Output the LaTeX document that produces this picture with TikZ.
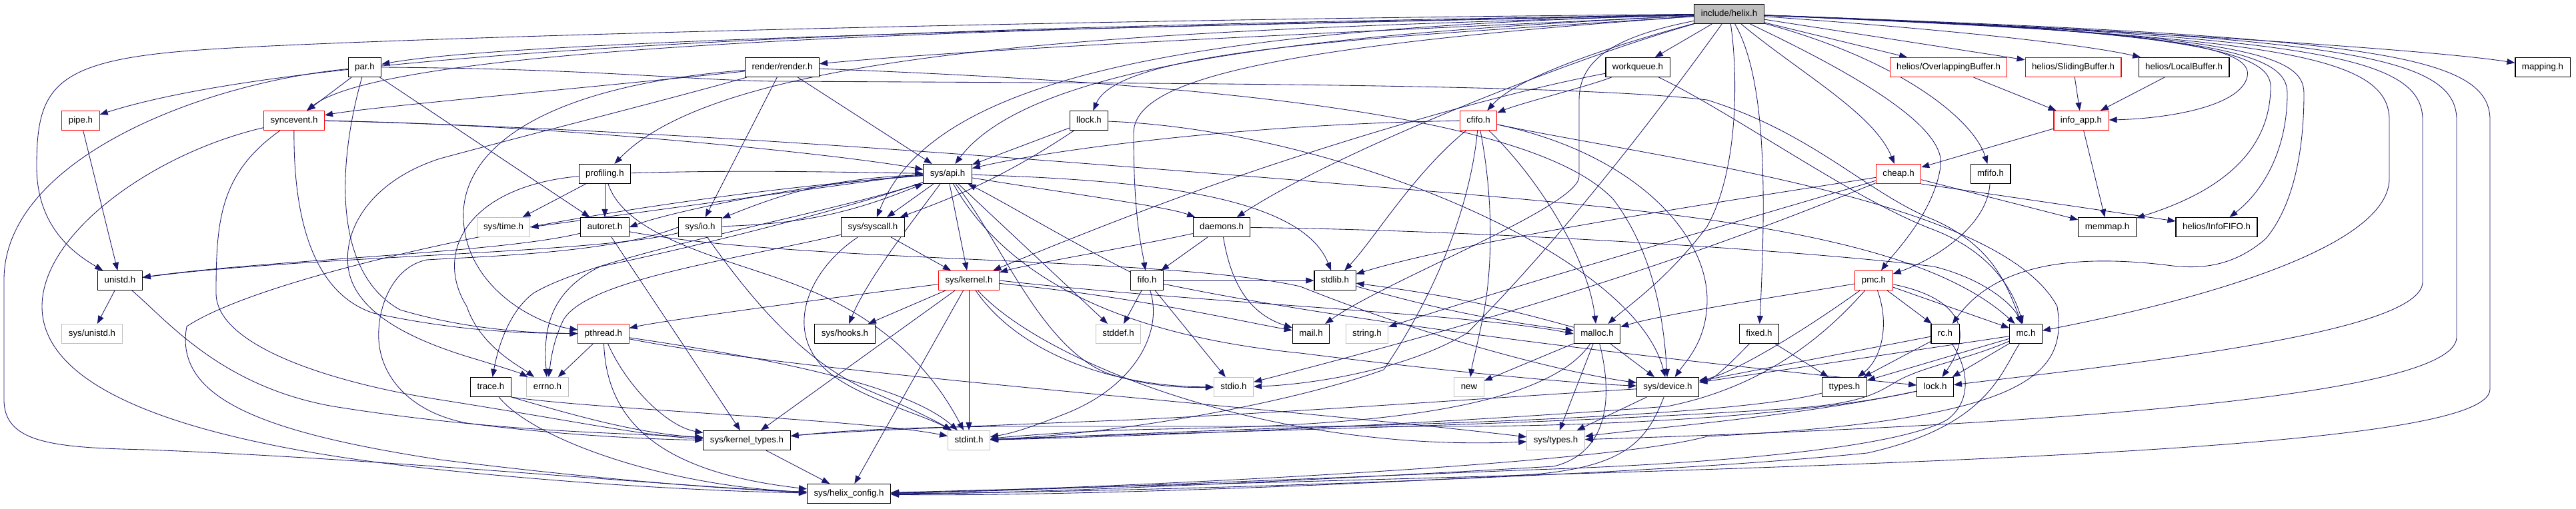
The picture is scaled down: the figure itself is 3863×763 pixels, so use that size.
\documentclass[tikz,border=0pt]{standalone}
\usepackage{fontspec}
\setmainfont{Liberation Sans}
\usetikzlibrary{arrows.meta}
\definecolor{edgec}{RGB}{25,25,112}
\definecolor{nodered}{RGB}{255,0,0}
\definecolor{nodegray}{RGB}{191,191,191}
\pgfdeclarelayer{bg}
\pgfdeclarelayer{edges}
\pgfsetlayers{bg,edges,main}
\begin{document}
\begin{tikzpicture}[x=1pt,y=-1pt,
 box/.style={draw=black, fill=white, line width=1.1pt, font=\fontsize{13.3}{14}\selectfont, inner xsep=10pt, inner ysep=0pt, minimum height=29pt, text height=9.6pt, text depth=2.8pt, anchor=center},
 redbox/.style={box, draw=nodered},
 graybox/.style={box, draw=nodegray},
 rootbox/.style={box, fill=nodegray},
 e/.style={draw=edgec, line width=0.85pt, -{Triangle[length=12pt,width=9pt]}}]
\useasboundingbox (0,0) rectangle (3863,763);
\begin{pgfonlayer}{bg}
\fill[white] (0,0) rectangle (3863,763);
\end{pgfonlayer}
% row 0
\node[rootbox] (helix) at (2593,21) {include/helix.h};
% row 1
\node[box] (par) at (547,101) {par.h};
\node[box] (render) at (1173,101) {render/render.h};
\node[box] (workqueue) at (2456,101) {workqueue.h};
\node[redbox] (overlap) at (2922,101) {helios/OverlappingBuffer.h};
\node[redbox] (sliding) at (3109,101) {helios/SlidingBuffer.h};
\node[box] (localbuf) at (3275,101) {helios/LocalBuffer.h};
\node[box] (mapping) at (3813,101) {mapping.h};
% row 2
\node[redbox] (pipe) at (121,181) {pipe.h};
\node[redbox] (syncevent) at (441,181) {syncevent.h};
\node[box] (llock) at (1633,181) {llock.h};
\node[redbox] (cfifo) at (2217,181) {cfifo.h};
\node[redbox] (infoapp) at (3121,181) {info\_app.h};
% row 3
\node[box] (profiling) at (907,261) {profiling.h};
\node[box] (sysapi) at (1421,261) {sys/api.h};
\node[redbox] (cheap) at (2847,261) {cheap.h};
\node[box] (mfifo) at (2985,261) {mfifo.h};
% row 4
\node[graybox] (systime) at (755,341) {sys/time.h};
\node[box] (autoret) at (907,341) {autoret.h};
\node[box] (sysio) at (1050,341) {sys/io.h};
\node[box] (syscall) at (1309,341) {sys/syscall.h};
\node[box] (daemons) at (1832,341) {daemons.h};
\node[box] (memmap) at (3160,341) {memmap.h};
\node[box] (infofifo) at (3324,341) {helios/InfoFIFO.h};
% row 5
\node[box] (unistd) at (180,421) {unistd.h};
\node[redbox] (syskernel) at (1453,421) {sys/kernel.h};
\node[box] (fifo) at (1720,421) {fifo.h};
\node[box] (stdlib) at (2002,421) {stdlib.h};
\node[redbox] (pmc) at (2810,421) {pmc.h};
% row 6
\node[graybox] (sysunistd) at (138,501) {sys/unistd.h};
\node[redbox] (pthread) at (905,501) {pthread.h};
\node[box] (syshooks) at (1267,501) {sys/hooks.h};
\node[graybox] (stddef) at (1677,501) {stddef.h};
\node[box] (mail) at (1966,501) {mail.h};
\node[graybox] (string) at (2050,501) {string.h};
\node[box] (malloc) at (2395,501) {malloc.h};
\node[box] (fixed) at (2638,501) {fixed.h};
\node[box] (rc) at (2917,501) {rc.h};
\node[box] (mc) at (3038,501) {mc.h};
% row 7
\node[box] (trace) at (736,581) {trace.h};
\node[graybox] (errno) at (821,581) {errno.h};
\node[graybox] (stdio) at (1850,581) {stdio.h};
\node[graybox] (new) at (2203,581) {new};
\node[box] (sysdevice) at (2501,581) {sys/device.h};
\node[box] (ttypes) at (2766,581) {ttypes.h};
\node[box] (lock) at (2902,581) {lock.h};
% row 8
\node[box] (kerneltypes) at (1120,661) {sys/kernel\_types.h};
\node[graybox] (stdint) at (1453,661) {stdint.h};
\node[graybox] (systypes) at (2333,661) {sys/types.h};
% row 9
\node[box] (helixconfig) at (1273,741) {sys/helix\_config.h};

\begin{pgfonlayer}{edges}
% helix
\draw[e] (helix) .. controls (2000,35) and (800,55) .. (par);
\draw[e] (helix) .. controls (2100,45) and (1500,70) .. (render);
\draw[e] (helix) -- (workqueue);
\draw[e] (helix) -- (overlap);
\draw[e] (helix) -- (sliding);
\draw[e] (helix) .. controls (3000,50) and (3150,72) .. (localbuf);
\draw[e] (helix) .. controls (3200,45) and (3650,75) .. (mapping);
\draw[e] (helix) .. controls (1700,40) and (600,55) .. (syncevent);
\draw[e] (helix) .. controls (1600,38) and (500,60) .. (pipe);
\draw[e] (helix) .. controls (1500,30) and (500,60) .. (300,75) .. controls (80,90) and (55,130) .. (55,250) .. controls (55,340) and (110,380) .. (unistd);
\draw[e] (helix) .. controls (2100,55) and (1680,70) .. (llock);
\draw[e] (helix) .. controls (2450,60) and (2280,110) .. (cfifo);
\draw[e] (helix) .. controls (3250,45) and (3380,70) .. (3370,115) .. controls (3360,160) and (3250,178) .. (infoapp);
\draw[e] (helix) .. controls (1800,45) and (1100,60) .. (profiling);
\draw[e] (helix) .. controls (2000,50) and (1550,90) .. (sysapi);
\draw[e] (helix) .. controls (2700,110) and (2810,170) .. (cheap);
\draw[e] (helix) .. controls (2850,90) and (2960,180) .. (mfifo);
\draw[e] (helix) .. controls (1800,42) and (1400,110) .. (syscall);
\draw[e] (helix) .. controls (2350,90) and (2000,230) .. (daemons);
\draw[e] (helix) .. controls (3300,45) and (3405,80) .. (3405,130) .. controls (3405,250) and (3290,300) .. (memmap);
\draw[e] (helix) .. controls (3330,48) and (3430,80) .. (3430,140) .. controls (3430,230) and (3390,290) .. (infofifo);
\draw[e] (helix) .. controls (1900,70) and (1700,120) .. (1700,200) .. controls (1700,330) and (1712,370) .. (fifo);
\draw[e] (helix) .. controls (2780,110) and (2920,190) .. (2910,250) .. controls (2900,320) and (2840,380) .. (pmc);
\draw[e] (helix) .. controls (2420,55) and (2368,90) .. (2368,150) -- (2368,265) .. controls (2368,310) and (2080,420) .. (mail);
\draw[e] (helix) .. controls (2605,100) and (2610,250) .. (2560,340) .. controls (2500,420) and (2440,460) .. (malloc);
\draw[e] (helix) .. controls (2650,120) and (2648,300) .. (fixed);
\draw[e] (helix) .. controls (2500,150) and (2350,350) .. (2200,500) .. controls (2100,560) and (1950,578) .. (stdio);
\draw[e] (helix) .. controls (3360,50) and (3455,80) .. (3455,140) .. controls (3455,250) and (3430,320) .. (3398,358) .. controls (3350,400) and (3300,405) .. (3250,398) .. controls (3100,380) and (2990,400) .. (rc);
\draw[e] (helix) .. controls (3400,55) and (3583,80) .. (3583,180) -- (3583,268) .. controls (3583,380) and (3250,460) .. (mc);
\draw[e] (helix) .. controls (3450,55) and (3633,80) .. (3633,180) -- (3633,423) .. controls (3633,500) and (3200,545) .. (lock);
\draw[e] (helix) .. controls (3500,55) and (3684,80) .. (3684,180) -- (3684,506) .. controls (3684,600) and (3000,640) .. (systypes);
\draw[e] (helix) .. controls (3550,55) and (3734,80) .. (3734,180) -- (3734,584) .. controls (3734,680) and (2800,700) .. (helixconfig);
% par
\draw[e] (par) -- (syncevent);
\draw[e] (par) .. controls (300,125) and (6,240) .. (6,420) -- (6,600) .. controls (6,665) and (80,672) .. (220,675) .. controls (600,690) and (1000,730) .. (helixconfig);
\draw[e] (par) .. controls (505,250) and (500,410) .. (600,465) .. controls (700,495) and (800,500) .. (pthread);
\draw[e] (par) -- (autoret);
\draw[e] (par.east) .. controls (900,103) and (1050,122) .. (1173,122) .. controls (1700,125) and (2350,125) .. (2560,150) .. controls (2720,200) and (2800,290) .. (2900,330) .. controls (2990,370) and (3010,430) .. (mc);
% render
\draw[e] (render) .. controls (900,130) and (560,160) .. (syncevent);
\draw[e] (render) -- (sysio);
\draw[e] (render) -- (sysapi);
\draw[e] (render) .. controls (800,130) and (690,230) .. (695,330) .. controls (700,430) and (800,485) .. (pthread);
\draw[e] (render) .. controls (1800,125) and (2300,170) .. (2420,300) .. controls (2480,380) and (2495,480) .. (sysdevice);
\draw[e] (render) .. controls (1000,150) and (800,200) .. (660,238) .. controls (560,270) and (515,340) .. (522,400) .. controls (530,470) and (620,510) .. (700,535) .. controls (750,550) and (780,560) .. (errno);
% syncevent
\draw[e] (syncevent) .. controls (230,230) and (63,350) .. (63,460) .. controls (63,570) and (230,660) .. (660,705) .. controls (900,730) and (1100,738) .. (helixconfig);
\draw[e] (syncevent) .. controls (330,260) and (324,330) .. (324,440) .. controls (324,520) and (500,575) .. (660,600) .. controls (850,630) and (970,655) .. (kerneltypes);
\draw[e] (syncevent) .. controls (440,330) and (470,440) .. (560,470) .. controls (700,500) and (800,500) .. (pthread);
\draw[e] (syncevent) .. controls (800,185) and (1250,230) .. (sysapi);
\draw[e] (syncevent.east) .. controls (1000,195) and (1500,235) .. (1940,270) .. controls (2400,310) and (2850,330) .. (mc);
% pipe, unistd
\draw[e] (pipe) -- (unistd);
\draw[e] (unistd) -- (sysunistd);
\draw[e] (unistd) .. controls (250,480) and (330,580) .. (500,610) .. controls (750,650) and (950,650) .. (kerneltypes);
% llock
\draw[e] (llock) -- (sysapi);
\draw[e] (llock) .. controls (1500,270) and (1420,300) .. (syscall);
\draw[e] (llock) .. controls (2000,195) and (2450,380) .. (sysdevice);
% cfifo
\draw[e] (cfifo) .. controls (2120,260) and (2060,360) .. (stdlib);
\draw[e] (cfifo) .. controls (1900,185) and (1600,220) .. (sysapi);
\draw[e] (cfifo) .. controls (2240,300) and (2238,400) .. (2225,470) .. controls (2215,520) and (2208,545) .. (new);
\draw[e] (cfifo) .. controls (2300,260) and (2380,380) .. (malloc);
\draw[e] (cfifo) .. controls (2450,230) and (2560,350) .. (2560,450) .. controls (2560,510) and (2530,540) .. (sysdevice);
\draw[e] (cfifo) .. controls (2206,300) and (2160,430) .. (2075,555) .. controls (1950,600) and (1700,650) .. (stdint);
\draw[e] (cfifo) .. controls (2500,240) and (3000,300) .. (3085,460) .. controls (3100,560) and (3050,630) .. (2560,655) .. controls (2400,700) and (1600,735) .. (helixconfig);
% workqueue
\draw[e] (workqueue) .. controls (2380,130) and (2280,155) .. (cfifo);
\draw[e] (workqueue) .. controls (2250,140) and (2050,200) .. (1900,250) .. controls (1750,300) and (1600,360) .. (syskernel);
\draw[e] (workqueue) .. controls (2600,170) and (2780,300) .. (2900,345) .. controls (2990,380) and (3020,440) .. (mc);
% sysapi
\draw[e] (sysapi) -- (syscall);
\draw[e] (sysapi) -- (syskernel);
\draw[e] (sysapi) .. controls (1370,330) and (1300,420) .. (syshooks);
\draw[e] (sysapi) -- (stddef);
\draw[e] (sysapi) .. controls (1500,360) and (1560,520) .. (1660,560) .. controls (1720,580) and (1770,582) .. (stdio);
\draw[e] (sysapi) .. controls (1600,290) and (1750,310) .. (daemons);
\draw[e] (sysapi) .. controls (1700,270) and (1950,290) .. (stdlib);
\draw[e] (sysapi.west) -- (systime.east);
\draw[e] (sysapi) .. controls (1200,275) and (1000,320) .. (autoret.east);
\draw[e] (sysapi) to[bend right=10] (sysio);
\draw[e] (sysio) to[bend right=10] (sysapi);
\draw[e] (sysapi) .. controls (1250,320) and (1000,380) .. (900,400) .. controls (820,440) and (815,500) .. (errno);
\draw[e] (sysapi) .. controls (1250,320) and (900,380) .. (800,440) .. controls (760,470) and (745,530) .. (trace);
\draw[e] (sysapi) .. controls (900,300) and (400,410) .. (280,490) .. controls (260,600) and (400,650) .. (660,690) .. controls (900,720) and (1100,735) .. (helixconfig);
\draw[e] (sysapi) .. controls (1500,400) and (1650,500) .. (1950,530) .. controls (2150,555) and (2350,575) .. (sysdevice);
% syscall
\draw[e] (syscall) -- (syskernel);
\draw[e] (syscall) .. controls (1100,390) and (880,420) .. (845,480) .. controls (830,510) and (826,540) .. (errno);
\draw[e] (syscall) .. controls (1220,400) and (1180,480) .. (1225,540) .. controls (1260,590) and (1380,620) .. (stdint);
% syskernel
\draw[e] (syskernel) -- (syshooks);
\draw[e] (syskernel) .. controls (1300,440) and (1000,480) .. (pthread);
\draw[e] (syskernel) -- (stdint);
\draw[e] (syskernel) -- (kerneltypes);
\draw[e] (syskernel) -- (helixconfig);
\draw[e] (syskernel) .. controls (1520,520) and (1650,580) .. (stdio);
\draw[e] (syskernel) .. controls (1560,540) and (1900,680) .. (systypes);
\draw[e] (syskernel.east) .. controls (1800,455) and (2200,470) .. (malloc.west);
\draw[e] (syskernel) .. controls (1700,445) and (1850,480) .. (mail);
% fifo
\draw[e] (fifo) .. controls (1600,360) and (1500,300) .. (sysapi);
\draw[e] (fifo) -- (stddef);
\draw[e] (fifo) -- (stdio);
\draw[e] (fifo) .. controls (1745,500) and (1700,580) .. (1600,620) .. controls (1550,640) and (1520,650) .. (stdint);
\draw[e] (fifo) -- (stdlib);
\draw[e] (fifo) .. controls (2100,500) and (2700,560) .. (lock);
% daemons
\draw[e] (daemons) -- (fifo);
\draw[e] (daemons) .. controls (1700,370) and (1550,395) .. (syskernel);
\draw[e] (daemons) .. controls (1845,420) and (1870,470) .. (mail);
\draw[e] (daemons) .. controls (2200,345) and (2700,375) .. (2900,400) .. controls (2980,420) and (3020,460) .. (mc);
% autoret
\draw[e] (autoret) -- (kerneltypes);
\draw[e] (autoret) .. controls (750,380) and (400,390) .. (unistd);
\draw[e] (autoret) .. controls (1200,395) and (1750,385) .. (1950,430) .. controls (2150,510) and (2350,560) .. (sysdevice);
% profiling
\draw[e] (profiling) -- (systime);
\draw[e] (profiling) -- (autoret);
\draw[e] (profiling) .. controls (700,280) and (650,380) .. (700,460) .. controls (720,520) and (780,550) .. (errno);
\draw[e] (profiling) .. controls (1100,255) and (1250,258) .. (sysapi);
\draw[e] (profiling) .. controls (940,360) and (1100,390) .. (1200,430) .. controls (1330,480) and (1400,560) .. (stdint);
% sysio
\draw[e] (sysio) .. controls (900,380) and (450,385) .. (unistd);
\draw[e] (sysio) .. controls (1120,440) and (1200,540) .. (1300,585) .. controls (1360,610) and (1400,630) .. (stdint);
\draw[e] (sysio.west) .. controls (920,380) and (720,385) .. (640,390) .. controls (590,400) and (565,460) .. (568,511) .. controls (572,570) and (620,620) .. (700,635) .. controls (850,655) and (1000,660) .. (kerneltypes);
% pthread
\draw[e] (pthread) -- (errno);
\draw[e] (pthread) .. controls (940,580) and (1000,640) .. (kerneltypes);
\draw[e] (pthread) .. controls (910,640) and (1000,710) .. (helixconfig);
\draw[e] (pthread) .. controls (1100,530) and (1350,570) .. (stdint);
\draw[e] (pthread) .. controls (1200,560) and (1900,610) .. (systypes);
% trace
\draw[e] (trace.south east) .. controls (850,620) and (950,650) .. (kerneltypes);
\draw[e] (trace) .. controls (800,660) and (1000,730) .. (helixconfig);
\draw[e] (trace.south east) .. controls (900,615) and (1300,630) .. (stdint);
% kernel types
\draw[e] (kerneltypes) -- (helixconfig);
% stdlib malloc
\draw[e] (stdlib) to[bend right=4] (malloc);
\draw[e] (malloc) to[bend right=4] (stdlib);
% malloc
\draw[e] (malloc) -- (new);
\draw[e] (malloc) -- (sysdevice);
\draw[e] (malloc) -- (systypes);
\draw[e] (malloc) .. controls (2300,640) and (1900,640) .. (1700,645) .. controls (1600,648) and (1520,655) .. (stdint);
\draw[e] (malloc) .. controls (2420,600) and (2410,680) .. (2330,700) .. controls (1900,725) and (1500,742) .. (helixconfig);
% sysdevice
\draw[e] (sysdevice) -- (systypes);
\draw[e] (sysdevice) .. controls (2470,660) and (2440,700) .. (2300,712) .. controls (1900,735) and (1500,745) .. (helixconfig);
\draw[e] (sysdevice) .. controls (2250,596) and (2000,615) .. (1700,630) .. controls (1450,640) and (1250,648) .. (kerneltypes);
% fixed
\draw[e] (fixed) -- (ttypes);
\draw[e] (fixed) .. controls (2600,540) and (2570,570) .. (sysdevice);
% pmc
\draw[e] (pmc) -- (rc);
\draw[e] (pmc) -- (mc);
\draw[e] (pmc) .. controls (2930,445) and (2965,490) .. (lock);
\draw[e] (pmc) .. controls (2835,490) and (2820,540) .. (ttypes);
\draw[e] (pmc) .. controls (2700,440) and (2500,470) .. (malloc);
\draw[e] (pmc) .. controls (2700,500) and (2600,560) .. (sysdevice);
\draw[e] (pmc) .. controls (2740,500) and (2650,580) .. (2500,610) .. controls (2100,640) and (1700,655) .. (stdint);
% rc
\draw[e] (rc) -- (ttypes);
\draw[e] (rc) -- (sysdevice);
\draw[e] (rc) .. controls (2950,550) and (2960,600) .. (2920,630) .. controls (2850,670) and (2600,695) .. (2300,705) .. controls (1800,725) and (1500,738) .. (helixconfig);
% mc
\draw[e] (mc) -- (lock);
\draw[e] (mc) -- (ttypes);
\draw[e] (mc) -- (sysdevice);
\draw[e] (mc) .. controls (2950,540) and (2880,550) .. (2840,575) .. controls (2815,590) and (2790,605) .. (2700,612) .. controls (2300,640) and (1700,650) .. (stdint);
\draw[e] (mc) .. controls (3000,560) and (2980,640) .. (2800,680) .. controls (2400,720) and (1600,740) .. (helixconfig);
% lock
\draw[e] (lock) .. controls (2750,615) and (2500,638) .. (2200,640) -- (1500,640) .. controls (1300,642) and (1230,650) .. (kerneltypes);
\draw[e] (lock) .. controls (2700,625) and (2450,645) .. (systypes);
% ttypes
\draw[e] (ttypes) .. controls (2650,612) and (2400,630) .. (2000,640) .. controls (1700,650) and (1550,658) .. (stdint);
% cheap
\draw[e] (cheap) -- (memmap);
\draw[e] (cheap.south east) -- (infofifo);
\draw[e] (cheap) .. controls (2600,300) and (2200,360) .. (stdlib);
\draw[e] (cheap) .. controls (2650,320) and (2300,420) .. (string);
\draw[e] (cheap) .. controls (2650,340) and (2400,440) .. (stdio);
% info_app and buffers
\draw[e] (infoapp) -- (cheap);
\draw[e] (infoapp) -- (memmap);
\draw[e] (overlap) -- (infoapp);
\draw[e] (sliding) -- (infoapp);
\draw[e] (localbuf) -- (infoapp);
\draw[e] (mfifo) .. controls (2980,340) and (2900,390) .. (pmc);
\end{pgfonlayer}
\end{tikzpicture}
\end{document}
